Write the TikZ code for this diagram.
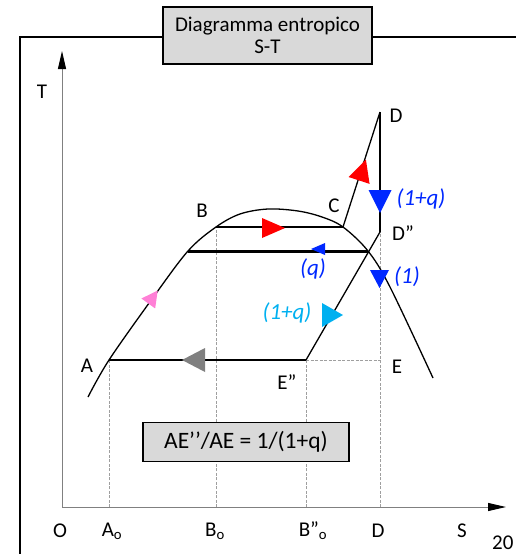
\documentclass[tikz,border=0pt]{standalone}
\usepackage{fontspec}
\setmainfont{Carlito}
\usetikzlibrary{arrows.meta}
\definecolor{myblue}{RGB}{0,40,255}
\definecolor{mycyan}{RGB}{0,176,240}
\definecolor{mypink}{RGB}{255,128,214}
\definecolor{boxgray}{RGB}{217,217,217}
\definecolor{tgray}{RGB}{128,128,128}
\newcommand\arrtri[6]{\fill[#6, shift={(#1,#2)}, rotate=#3] (#4/2,0) -- (-#4/2,#5/2) -- (-#4/2,-#5/2) -- cycle;}
\tikzset{
  lbl/.style={font=\fontsize{21}{23}\selectfont, inner sep=0pt},
  bluelbl/.style={lbl, text=myblue, font=\fontsize{23}{25}\selectfont\itshape},
  cyanlbl/.style={lbl, text=mycyan, font=\fontsize{23}{25}\selectfont\itshape},
  graybox/.style={draw=black, line width=1.8pt, fill=boxgray, align=center, inner sep=0pt},
  guide/.style={gray!75, line width=0.8pt, dash pattern=on 3pt off 1.5pt},
  axis/.style={gray, line width=1pt, -{Triangle[length=18pt,width=8pt,black]}},
  curve/.style={black, line width=1.3pt},
  proc/.style={black, line width=2pt}
}
\begin{document}
\begin{tikzpicture}[x=1pt,y=-1pt]
\useasboundingbox (0,0) rectangle (516,554);
% frame
\coordinate (fb) at (20,554);
\coordinate (ft) at (20,37);
\coordinate (fr) at (516,37);
\draw[line width=2.5pt] (fb) -- (ft);
\draw[line width=2pt] (19,37) -- (fr);
% axes
\coordinate (O) at (62,507);
\coordinate (Ttip) at (62,51);
\coordinate (Stip) at (506,507);
\draw[axis] (O) -- (Ttip);
\draw[axis] (O) -- (Stip);
% key points
\coordinate (A) at (109,360);
\coordinate (B) at (216,227);
\coordinate (C) at (343,227);
\coordinate (D) at (380,112);
\coordinate (Dpp) at (380,232);
\coordinate (E) at (380,360);
\coordinate (Epp) at (306,360);
\coordinate (Ql) at (188,251);
\coordinate (Qr) at (368,251);
\coordinate (Ao) at (109,507);
\coordinate (Bo) at (216,507);
\coordinate (Bppo) at (306,507);
\coordinate (Do) at (380,507);
% guides
\draw[guide] (Ao) -- (A);
\draw[guide] (Bo) -- (B);
\draw[guide] (Bppo) -- (Epp);
\draw[guide] (Do) -- (Dpp);
\draw[guide] (Epp) -- (E);
% saturation dome
\draw[curve] plot[smooth, tension=0.55] coordinates {(88,397) (109,360) (152,299) (188,251) (216,227) (240,214) (268,209) (298,211) (322,217) (343,227) (368,251) (390,287) (433,378)};
% process lines
\draw[proc] (B) -- (C);
\draw[black, line width=3pt] (Ql) -- (Qr);
\draw[proc] (A) -- (Epp);
\draw[curve] (Epp) -- (Dpp);
\draw[curve] (C) -- (D);
\draw[black, line width=2.2pt] (D) -- (Dpp);
% arrow triangles
\arrtri{153}{297}{54}{16}{17}{mypink}
\arrtri{193.5}{360}{180}{23}{24}{tgray}
\arrtri{273.5}{228}{0}{23}{20}{red}
\arrtri{362.5}{170}{72}{22}{22}{red}
\arrtri{380}{201.5}{-90}{23}{23}{myblue}
\arrtri{379.5}{279}{-90}{18}{19}{myblue}
\arrtri{332.5}{315}{0}{21}{24}{mycyan}
\arrtri{318}{249}{180}{14}{12}{myblue}
% labels
\node[lbl] (Tl) at (42,92) {T};
\node[lbl] (Al) at (87,366) {A};
\node[lbl] (Bl) at (202,211) {B};
\node[lbl] (Cl) at (334,206) {C};
\node[lbl] (Dl) at (396,116) {D};
\node[lbl] (Dppl) at (403,233) {D”};
\node[lbl] (El) at (397,367) {E};
\node[lbl] (Eppl) at (287,382) {E”};
\node[bluelbl] (l1q) at (421,199) {(1+q)};
\node[bluelbl] (l1) at (407,277) {(1)};
\node[bluelbl] (lq) at (313,269) {(q)};
\node[cyanlbl] (lc) at (287,313) {(1+q)};
\node[lbl] (Ol) at (60,531) {O};
\node[lbl] (Aol) at (112,531) {A\textsubscript{o}};
\node[lbl] (Bol) at (215,531) {B\textsubscript{o}};
\node[lbl] (Bppol) at (313,531) {B”\textsubscript{o}};
\node[lbl] (Dol) at (378,531) {D};
\node[lbl] (Sl) at (462,531) {S};
\node[lbl, anchor=west] (pg) at (492,543) {20};
% boxes
\node[graybox, font=\fontsize{21}{22}\selectfont, minimum width=209pt, minimum height=57pt] (title) at (267.5,35.5) {Diagramma entropico\\S-T};
\node[graybox, font=\fontsize{23.5}{25}\selectfont, minimum width=206pt, minimum height=39pt] (formula) at (246,442) {AE’’/AE = 1/(1+q)};
\end{tikzpicture}
\end{document}
